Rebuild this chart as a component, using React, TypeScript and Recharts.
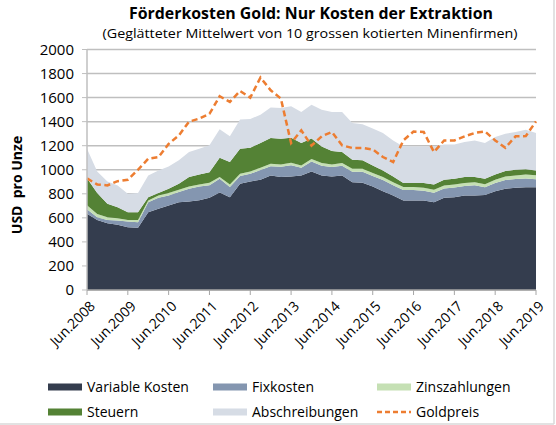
import { ComposedChart, Area, Line, XAxis, YAxis, CartesianGrid } from 'recharts'

// quarterly points, Jun.2008 .. Jun.2019
const MONTHS = ['Jun', 'Sep', 'Dez', 'Mär']
const QUARTERS: string[] = []
for (let i = 0; i < 45; i++) {
  const m = MONTHS[i % 4]
  const year = 2008 + Math.floor((i + 2) / 4)
  QUARTERS.push(`${m}.${year}`)
}

const Y_TICKS = [0, 200, 400, 600, 800, 1000, 1200, 1400, 1600, 1800, 2000]

const variableKosten = [
  635, 583, 555, 542, 522, 517, 647, 675, 703, 730, 736, 746, 767, 811, 772, 883, 903, 917, 953, 939, 944, 953,
  986, 953, 944, 953, 897, 892, 861, 822, 786, 744, 744, 744, 730, 767, 772, 786, 786, 790, 822, 842, 850, 854, 854,
]
const fixkosten = [
  37, 23, 28, 36, 47, 47, 83, 92, 83, 84, 106, 115, 105, 114, 84, 64, 63, 80, 77, 85, 94, 63, 82, 81, 78, 81, 86,
  91, 86, 92, 86, 87, 87, 81, 78, 77, 81, 78, 86, 65, 67, 72, 73, 74, 68,
]
const zinszahlungen = [
  33, 27, 23, 19, 14, 19, 14, 19, 20, 19, 19, 17, 20, 14, 22, 20, 20, 20, 20, 20, 20, 20, 22, 22, 22, 22, 25, 25,
  25, 25, 25, 25, 25, 25, 25, 25, 25, 25, 25, 25, 28, 30, 30, 32, 33,
]
const steuern = [
  225, 173, 111, 92, 64, 64, 28, 20, 36, 50, 78, 82, 88, 161, 186, 208, 197, 205, 214, 214, 209, 186, 170, 138, 112,
  91, 75, 70, 64, 55, 47, 33, 33, 39, 45, 48, 47, 50, 42, 45, 44, 45, 47, 45, 38,
]
const abschreibungen = [
  245, 180, 186, 180, 153, 159, 181, 188, 186, 195, 208, 215, 223, 236, 214, 242, 239, 236, 253, 256, 261, 259, 280,
  306, 325, 334, 306, 300, 306, 312, 300, 305, 305, 305, 316, 294, 286, 292, 305, 297, 311, 311, 314, 328, 312,
]
const goldpreis = [
  928, 878, 870, 905, 917, 1000, 1092, 1105, 1215, 1285, 1400, 1425, 1465, 1611, 1564, 1655, 1600, 1767, 1661, 1592,
  1222, 1328, 1200, 1278, 1314, 1203, 1181, 1181, 1169, 1106, 1064, 1244, 1318, 1314, 1147, 1244, 1244, 1278, 1306,
  1319, 1244, 1183, 1278, 1280, 1402,
]

const data = QUARTERS.map((q, i) => ({
  q,
  variable: variableKosten[i],
  fix: fixkosten[i],
  zins: zinszahlungen[i],
  steuern: steuern[i],
  abschr: abschreibungen[i],
  gold: goldpreis[i],
}))

const C = {
  variable: '#343d4e',
  fix: '#8496b0',
  zins: '#c5e0b4',
  steuern: '#548235',
  abschr: '#d6dce5',
  gold: '#ed7d31',
}

const FONT = '"Open Sans", "Noto Sans", sans-serif'

const XTick = ({ x, y, payload }: any) => {
  const ax = x + 9
  const ay = y + 12
  return (
    <text x={ax} y={ay} transform={`rotate(-45 ${ax} ${ay})`} textAnchor="end" fontSize={14} fill="#000" fontFamily={FONT}>
      {payload.value}
    </text>
  )
}

const LEGEND = [
  { label: 'Variable Kosten', color: C.variable, x: 48, y: 387 },
  { label: 'Fixkosten', color: C.fix, x: 213, y: 387 },
  { label: 'Zinszahlungen', color: C.zins, x: 377, y: 387 },
  { label: 'Steuern', color: C.steuern, x: 48, y: 412 },
  { label: 'Abschreibungen', color: C.abschr, x: 213, y: 412 },
  { label: 'Goldpreis', color: C.gold, x: 377, y: 412, dashed: true },
]

export default function App() {
  return (
    <div style={{ position: 'absolute', left: 0, top: 0, width: 556, height: 425, background: '#fff', fontFamily: FONT }}>
      <ComposedChart width={556} height={425} data={data} margin={{ top: 49.5, right: 20, bottom: 60, left: 0 }}>
        <CartesianGrid vertical={false} stroke="#bfbfbf" strokeWidth={1.5} />
        <XAxis
          dataKey="q"
          interval={3}
          height={75}
          tick={<XTick />}
          tickSize={5}
          tickMargin={0}
          axisLine={{ stroke: '#a6a6a6', strokeWidth: 1.5 }}
          tickLine={{ stroke: '#a6a6a6' }}
        />
        <YAxis
          width={87}
          domain={[0, 2000]}
          ticks={Y_TICKS}
          interval={0}
          tickSize={5}
          tickMargin={8}
          tick={{ fontSize: 15, fill: '#000', fontFamily: FONT }}
          axisLine={{ stroke: '#bfbfbf', strokeWidth: 1.5 }}
          tickLine={{ stroke: '#bfbfbf' }}
        />
        <Area type="linear" dataKey="variable" stackId="s" stroke="none" fill={C.variable} fillOpacity={1} isAnimationActive={false} activeDot={false} />
        <Area type="linear" dataKey="fix" stackId="s" stroke="none" fill={C.fix} fillOpacity={1} isAnimationActive={false} activeDot={false} />
        <Area type="linear" dataKey="zins" stackId="s" stroke="none" fill={C.zins} fillOpacity={1} isAnimationActive={false} activeDot={false} />
        <Area type="linear" dataKey="steuern" stackId="s" stroke="none" fill={C.steuern} fillOpacity={1} isAnimationActive={false} activeDot={false} />
        <Area type="linear" dataKey="abschr" stackId="s" stroke="none" fill={C.abschr} fillOpacity={1} isAnimationActive={false} activeDot={false} />
        <Line type="linear" dataKey="gold" stroke={C.gold} strokeWidth={2.5} strokeDasharray="6 3.5" dot={false} activeDot={false} isAnimationActive={false} />
      </ComposedChart>

      <svg width={556} height={425} style={{ position: 'absolute', left: 0, top: 0, pointerEvents: 'none' }}>
        <text x={311} y={19} textAnchor="middle" fontSize={15.5} fontWeight="bold" fontFamily={FONT} textLength={364} lengthAdjust="spacingAndGlyphs">
          Förderkosten Gold: Nur Kosten der Extraktion
        </text>
        <text x={310} y={38} textAnchor="middle" fontSize={12.5} fontFamily={FONT} textLength={415} lengthAdjust="spacingAndGlyphs">
          (Geglätteter Mittelwert von 10 grossen kotierten Minenfirmen)
        </text>
        <text
          x={0}
          y={0}
          transform="translate(22 185) rotate(-90)"
          textAnchor="middle"
          fontSize={14}
          fontWeight="bold"
          fontFamily={FONT}
          style={{ whiteSpace: 'pre' }}
        >
          {'USD  pro Unze'}
        </text>
        {LEGEND.map((item) => (
          <g key={item.label}>
            {item.dashed ? (
              <line x1={item.x} x2={item.x + 34} y1={item.y} y2={item.y} stroke={item.color} strokeWidth={2.5} strokeDasharray="5 3" />
            ) : (
              <rect x={item.x} y={item.y - 3.5} width={34} height={7} fill={item.color} />
            )}
            <text x={item.x + 39} y={item.y + 5} fontSize={14} fontFamily={FONT} fill="#000">
              {item.label}
            </text>
          </g>
        ))}
        <line x1={554} x2={554} y1={0} y2={424} stroke="#d9d9d9" strokeWidth={1.5} />
        <line x1={0} x2={554} y1={424} y2={424} stroke="#d9d9d9" strokeWidth={1.5} />
      </svg>
    </div>
  )
}
